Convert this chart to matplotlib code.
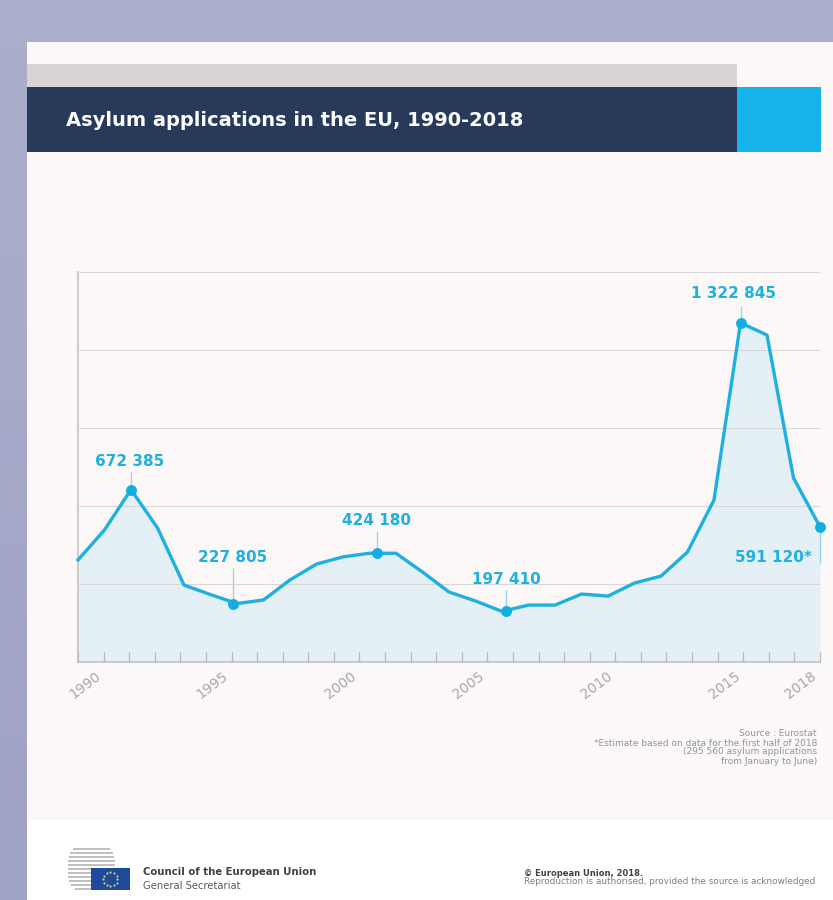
import numpy as np
import matplotlib
matplotlib.use("Agg")
import matplotlib.pyplot as plt
from matplotlib.patches import Rectangle
from matplotlib.colors import LinearSegmentedColormap
from matplotlib.transforms import ScaledTranslation

years = list(range(1990, 2019))
values = [398000, 515000, 672385, 523000, 300000, 263000, 227805, 242000, 320000, 382000,
          410000, 424180, 424000, 351000, 273000, 238000, 197410, 222000, 222000, 265000,
          257000, 308000, 335000, 429000, 632000, 1322845, 1275000, 718000, 527000]

peak_x = [1992, 1995.85, 2001.28, 2006.15, 2015, 2018]
peak_y = [672385, 227805, 424180, 197410, 1322845, 527000]
peak_labels = ["672 385", "227 805", "424 180", "197 410", "1 322 845", "591 120*"]
label_x = [1991.95, 1995.85, 2001.28, 2006.15, 2014.75, 2017.7]
label_y = [780000, 405600, 550000, 320000, 1439000, 405600]
label_ha = ["center", "center", "center", "center", "center", "right"]
stem_end = [740000, 365000, 510000, 280000, 1390000, 385000]

tick_labels = ["1990", "1995", "2000", "2005", "2010", "2015", "2018"]
tick_label_index = [1, 6, 11, 16, 21, 26, 29]
grid_values = [304200, 608400, 912600, 1216800, 1521000]

source_lines = ["Source : Eurostat",
                "*Estimate based on data for the first half of 2018",
                "(295 560 asylum applications",
                "from January to June)"]

W, H = 833, 900
BLUE = "#1fb0e0"
fig = plt.figure(figsize=(W / 100, H / 100), dpi=100, facecolor="#abaecb")

bg = fig.add_axes([0, 0, 1, 1], zorder=0)
bg.axis("off")
grad = np.linspace(0, 1, 100).reshape(-1, 1)
cm = LinearSegmentedColormap.from_list("s", ["#abaecb", "#9fa3c5"])
bg.imshow(grad, extent=(0, 27, H, 42), cmap=cm, aspect="auto", zorder=1)
bg.set_xlim(0, W)
bg.set_ylim(H, 0)


def rect(x0, y0, x1, y1, c, z=2):
    bg.add_patch(Rectangle((x0, y0), x1 - x0, y1 - y0, fc=c, ec="none", zorder=z))


rect(27, 42, W, 820, "#fbf8f7")
rect(27, 820, W, H, "#ffffff")
rect(27, 64, 737, 87, "#d7d4d3", 3)
rect(27, 87, 737, 152, "#283a59", 3)
rect(737, 87, 821, 152, "#15b3e8", 3)
bg.text(66, 120, "Asylum applications in the EU, 1990-2018", color="#fbfbfb", fontsize=14,
        fontweight="bold", family="DejaVu Sans", va="center", ha="left", zorder=4)

# Logo
stripe_y = [849, 853, 857, 861, 865, 869, 873, 877, 881, 885, 889]
stripe_x0 = [73, 70, 69, 68, 68, 68, 68, 68, 69, 71, 75]
stripe_x1 = [110, 113, 114, 115, 115, 91, 91, 91, 91, 91, 91]
for y, a, b in zip(stripe_y, stripe_x0, stripe_x1):
    bg.plot([a, b], [y, y], color="#b4b4b4", lw=1.2, zorder=3, solid_capstyle="butt")
rect(91, 868, 130, 890, "#1f4a9c", 4)
ang = np.arange(12) * 2 * np.pi / 12
bg.scatter(110.5 + 7 * np.sin(ang), 879 + 7 * np.cos(ang), s=2.5, color="#d9cf55", zorder=5, linewidths=0)

bg.text(143, 872, "Council of the European Union", color="#3f4248", fontsize=7.3, fontweight="bold",
        family="DejaVu Sans", va="center", zorder=4)
bg.text(143, 886, "General Secretariat", color="#55585e", fontsize=7.2,
        family="DejaVu Sans", va="center", zorder=4)
bg.text(524, 873, "© European Union, 2018.", color="#3f4248", fontsize=6.0, fontweight="bold",
        family="DejaVu Sans", va="center", zorder=4)
bg.text(524, 882, "Reproduction is authorised, provided the source is acknowledged", color="#7c7f86",
        fontsize=6.43, family="DejaVu Sans", va="center", zorder=4)
for y, s in zip([734, 743, 752, 761], source_lines):
    bg.text(817, y, s, color="#8f93a8", fontsize=6.5, family="DejaVu Sans", va="center", ha="right", zorder=4)

# Chart
ax = fig.add_axes([78 / W, 1 - 662 / H, 742 / W, 390 / H], zorder=2)
ax.patch.set_alpha(0)
ax.set_xlim(1990, 2018)
ax.set_ylim(0, 1521000)
ax.set_yticks(grid_values)
ax.set_yticklabels([])
ax.tick_params(axis="y", length=0)
for s in ["top", "right"]:
    ax.spines[s].set_visible(False)
for s in ["left", "bottom"]:
    ax.spines[s].set_color("#c4c4c4")
    ax.spines[s].set_linewidth(1.2)

ticks = np.linspace(1990, 2018, 30)
ax.set_xticks(ticks)
labs = [""] * 30
for i, t in zip(tick_label_index, tick_labels):
    labs[i] = t
ax.set_xticklabels(labs)
ax.tick_params(axis="x", direction="in", length=7.5, width=0.9, color="#b9b9b9", pad=5,
               labelcolor="#a8a8a8", labelsize=10)
shift = ScaledTranslation(-9 / 100, 0, fig.dpi_scale_trans)
for lab in ax.get_xticklabels():
    lab.set_rotation(37)
    lab.set_ha("right")
    lab.set_va("top")
    lab.set_rotation_mode("anchor")
    lab.set_transform(lab.get_transform() + shift)

ax.fill_between(years, values, 0, color="#e4eff6", zorder=1, lw=0)
ax.set_axisbelow(False)
ax.grid(axis="y", color="#d8d7d7", lw=0.75, zorder=1.5)
ax.plot(years, values, color=BLUE, lw=2.4, zorder=3, solid_joinstyle="miter", clip_on=False)
ax.scatter(peak_x, peak_y, s=62, color="#12aee3", zorder=4, clip_on=False, linewidths=0)
ax.vlines(peak_x, peak_y, stem_end, color="#8fd3ec", lw=0.9, zorder=2.5, clip_on=False)
for x, y, s, ha in zip(label_x, label_y, peak_labels, label_ha):
    ax.text(x, y, s, color=BLUE, fontsize=11, fontweight="bold", family="DejaVu Sans",
            ha=ha, va="center", zorder=5, clip_on=False)

fig.savefig("out.png", dpi=100, facecolor=fig.get_facecolor())
